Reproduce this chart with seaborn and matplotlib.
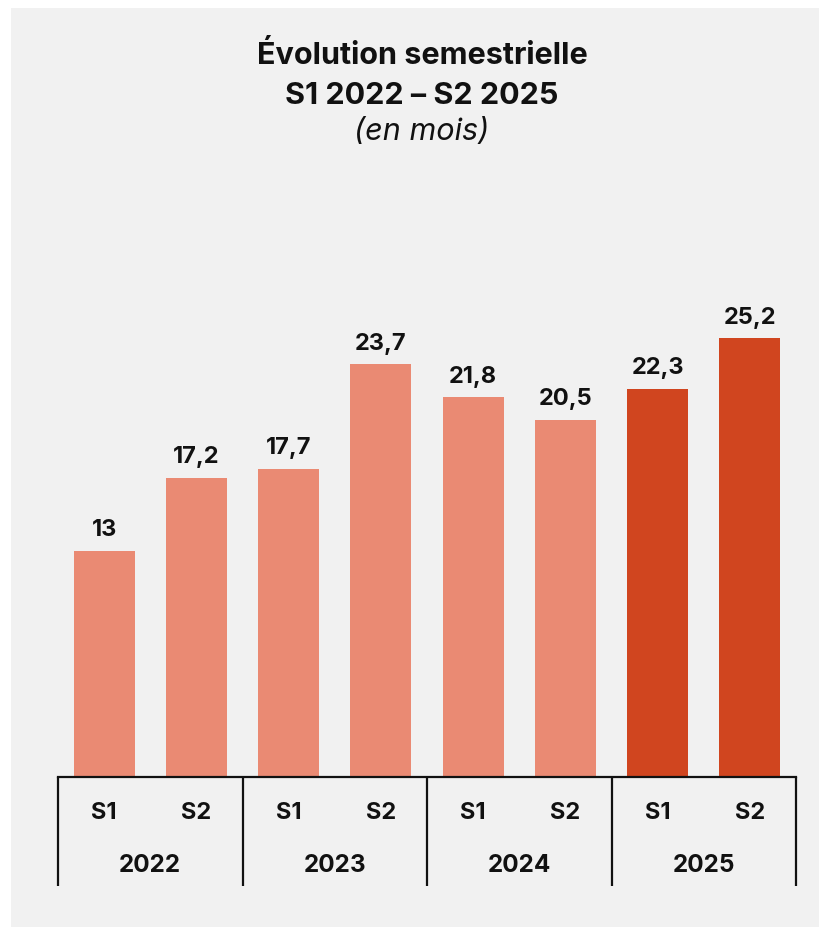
import matplotlib
matplotlib.use("Agg")
import matplotlib.pyplot as plt
import matplotlib.patches as mpatches
import matplotlib.transforms as mtransforms
import seaborn as sns
import pandas as pd

# Data
years = ["2022", "2023", "2024", "2025"]
semesters = ["S1", "S2"]
values = [13.0, 17.2, 17.7, 23.7, 21.8, 20.5, 22.3, 25.2]
highlight = [False, False, False, False, False, False, True, True]

LIGHT = "#EA8A73"
DARK = "#D0451F"
BG = "#F1F1F1"

sns.set_theme(style="white")
plt.rcParams["font.family"] = ["Inter", "DejaVu Sans"]

W, H = 819, 927
fig = plt.figure(figsize=(W / 100, H / 100), dpi=100)
fig.patch.set_facecolor("white")
fig.patches.append(mpatches.Rectangle((11 / W, 0), 1 - 11 / W, 1 - 8 / H,
                                      transform=fig.transFigure,
                                      facecolor=BG, edgecolor="none", zorder=-10))

ax_left, ax_right = 58, 796
ax_bottom, ax_top = 777, 150
ax = fig.add_axes([ax_left / W, (H - ax_bottom) / H,
                   (ax_right - ax_left) / W, (ax_bottom - ax_top) / H])
ax.set_facecolor("none")

labels = [f"{y} {s}" for y in years for s in semesters]
df = pd.DataFrame({"period": labels, "value": values,
                   "group": ["hi" if h else "lo" for h in highlight]})

sns.barplot(data=df, x="period", y="value", hue="group",
            palette={"lo": LIGHT, "hi": DARK}, width=0.66, dodge=False,
            legend=False, ax=ax, saturation=1, linewidth=0)

px_per_unit = 17.41
ax.set_ylim(0, (ax_bottom - ax_top) / px_per_unit)
ax.set_xlim(-0.5, len(values) - 0.5)

for i, v in enumerate(values):
    ax.annotate(f"{v:g}".replace(".", ","), (i, v), xytext=(0, 7),
                textcoords="offset points", ha="center", va="bottom",
                fontsize=17, fontweight="bold", color="#111111")

for s in ["top", "right", "left"]:
    ax.spines[s].set_visible(False)
ax.spines["bottom"].set_color("#111111")
ax.spines["bottom"].set_linewidth(1.6)
ax.set_xticks([])
ax.set_yticks([])
ax.set_xlabel("")
ax.set_ylabel("")

axh = ax_bottom - ax_top
trans = mtransforms.blended_transform_factory(ax.transData, ax.transAxes)
for i, lab in enumerate(labels):
    ax.text(i, -36 / axh, lab.split()[1], transform=trans, ha="center",
            va="center", fontsize=17, fontweight="bold", color="#111111")
for k, y in enumerate(years):
    ax.text(2 * k + 0.5, -89 / axh, y, transform=trans, ha="center",
            va="center", fontsize=17.5, fontweight="bold", color="#111111")
for b in [-0.5, 1.5, 3.5, 5.5, 7.5]:
    ax.plot([b, b], [0, -109 / axh], transform=trans, color="#111111",
            lw=1.6, clip_on=False, solid_capstyle="butt")

cx = 422 / W
fig.text(cx, 1 - 56 / H, "Évolution semestrielle", ha="center", va="center",
         fontsize=22, fontweight="bold", color="#111111")
fig.text(cx, 1 - 96 / H, "S1 2022 – S2 2025", ha="center", va="center",
         fontsize=22, fontweight="bold", color="#111111")
fig.text(cx, 1 - 132 / H, "(en mois)", ha="center", va="center",
         fontsize=22, fontstyle="italic", color="#111111")

fig.savefig("out.png", dpi=100, facecolor=fig.get_facecolor())
